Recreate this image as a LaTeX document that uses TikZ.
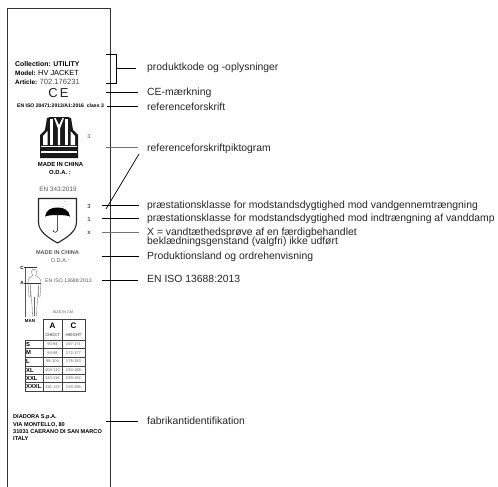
\documentclass[tikz,border=0pt]{standalone}
\usepackage{fontspec}
\setmainfont{Liberation Sans}
\tikzset{
	lbl/.style={anchor=west, inner sep=0pt, font=\fontsize{10.4}{9}\selectfont, text=black!85},
	leader/.style={line width=0.7pt},
	grayleader/.style={line width=0.9pt, black!55},
	tag/.style={inner sep=0pt, font=\bfseries\fontsize{5.9}{6}\selectfont},
	tagleft/.style={tag, anchor=west},
	graytag/.style={inner sep=0pt, font=\fontsize{5.6}{6}\selectfont, text=black!65},
	tablehead/.style={inner sep=0pt, font=\bfseries\fontsize{8}{8}\selectfont},
	tablesub/.style={inner sep=0pt, font=\fontsize{4.2}{5}\selectfont, text=black!80},
	tablesize/.style={anchor=west, inner sep=0pt, font=\bfseries\fontsize{5.8}{6}\selectfont},
	tabledata/.style={inner sep=0pt, font=\fontsize{4.1}{5}\selectfont, text=black!60},
	gridline/.style={line width=0.6pt, black!75},
}
\begin{document}
\begin{tikzpicture}[x=1pt, y=-1pt]
		\useasboundingbox (0,0) rectangle (498,487);

		% label outline
		\draw [line width=0.7pt, black!80] (7,487) -- (7,8) -- (110,8) -- (110,487);

		% label texts
		\node (C1) at (15,64) [tagleft, font=\bfseries\fontsize{6.9}{7}\selectfont] {Collection: UTILITY};
		\node (C2) at (15,72.5) [tagleft, font=\bfseries\fontsize{6.4}{7}\selectfont] {Model: \mdseries\fontsize{7.4}{7}\selectfont HV JACKET};
		\node (C3) at (15,81.5) [tagleft, font=\bfseries\fontsize{6.4}{7}\selectfont] {Article: \mdseries\fontsize{7.6}{7}\selectfont\textcolor{black!70}{702.176231}};
		\node (CE) at (58.5,93) [inner sep=0pt, font=\fontsize{13}{13}\selectfont, text=black!85] {C\kern2pt E};
		\node (STD) at (60.5,106) [tag, font=\bfseries\fontsize{5.1}{5}\selectfont] {EN ISO 20471:2013/A1:2016\ \ class 3};
		\node (MC1) at (60.5,164.5) [tag] {MADE IN CHINA};
		\node (ODA1) at (60,172.5) [tag] {O.D.A. :};
		\node (EN) at (58,189) [graytag, font=\fontsize{6.4}{7}\selectfont] {EN 343:2019};
		\node (MC2) at (57.5,253) [graytag, font=\bfseries\fontsize{5.6}{6}\selectfont] {MADE IN CHINA};
		\node (ODA2) at (60,260.5) [graytag] {O.D.A.:};
		\node (ISO) at (68.5,281) [graytag, font=\fontsize{5.2}{6}\selectfont] {EN ISO 13688:2013};
		\node (VAL0) at (89,136.5) [graytag] {3};
		\node (VAL1) at (89,206) [graytag, font=\bfseries\fontsize{6}{6}\selectfont] {3};
		\node (VAL2) at (89,219) [graytag, font=\bfseries\fontsize{6}{6}\selectfont] {1};
		\node (VAL3) at (89,232.5) [tag, text=black!70] {x};
		\node (F1) at (13,417) [tagleft, font=\bfseries\fontsize{5.6}{6}\selectfont] {DIADORA S.p.A.};
		\node (F2) at (13,424.5) [tagleft, font=\bfseries\fontsize{5.6}{6}\selectfont] {VIA MONTELLO, 80};
		\node (F3) at (13,431.5) [tagleft, font=\bfseries\fontsize{5.6}{6}\selectfont] {31031 CAERANO DI SAN MARCO};
		\node (F4) at (13,439) [tagleft, font=\bfseries\fontsize{5.6}{6}\selectfont] {ITALY};

		% vest
		\fill [black!90] (50,117) -- (68,117) -- (71,118) -- (73,130) -- (78,135) -- (78,158) -- (40,158) -- (40,135) -- (45,130) -- (47,118) -- cycle;
		\fill [white] (43,136) -- (47.5,131) -- (47.5,145) -- (43,145) -- cycle;
		\fill [white] (75,136) -- (70.5,131) -- (70.5,145) -- (75,145) -- cycle;
		\fill [white] (50,119) -- (53,119) -- (53,145) -- (50,145) -- cycle;
		\fill [white] (65,119) -- (68,119) -- (68,145) -- (65,145) -- cycle;
		\fill [white] (55.5,118) -- (59,125) -- (62.5,118) -- (64,118) -- (60.2,128) -- (60.2,145) -- (57.8,145) -- (57.8,128) -- (54,118) -- cycle;
		\fill [white] (40.8,150.5) rectangle (77.2,152.7);
		\fill [white] (41,145.5) rectangle (77,147);

		% shield and umbrella
		\draw [line width=1.1pt, black!85, fill=white] (38.5,198.5) -- (76.5,198.5) -- (76.5,222) .. controls (76.5,232) and (66,238) .. (57.5,243) .. controls (49,238) and (38.5,232) .. (38.5,222) -- cycle;
		\fill [black] (45,216.5) .. controls (46,210) and (51,207.5) .. (57.5,207.5) .. controls (64,207.5) and (69,210) .. (70,216.5) .. controls (66,214.5) and (49,214.5) .. (45,216.5) -- cycle;
		\draw [line width=0.5pt] (57.5,214) -- (57.5,230) .. controls (57.5,233) and (53,233) .. (53,230);
		\foreach \px/\py in {59/205, 62/203, 65/201.5, 66/205, 69/204, 63/206.5}
			\fill [black!70] (\px,\py) circle (0.45);

		% figure with measures
		\node (MC) at (22,267.5) [inner sep=0pt, font=\bfseries\fontsize{4.6}{5}\selectfont] {C};
		\node (MA) at (22,283) [inner sep=0pt, font=\bfseries\fontsize{4.6}{5}\selectfont] {A};
		\draw [line width=0.8pt, black!65] (25,267) -- (25,317);
		\draw [line width=0.6pt, black!80] (24,267.5) -- (37,267.5);
		\draw [line width=0.6pt, black!80] (24,283) -- (41,283);
		\draw [line width=0.3pt, black!60] (34,269) .. controls (31,269) and (31,274) .. (33,275.5) .. controls (30,277) and (28,278) .. (28,283) -- (29,297) -- (30.5,297) -- (30.5,284) .. controls (31,292) and (31,298) .. (32,305) -- (32.5,316) -- (36.5,316) -- (37,305) .. controls (38,298) and (38,292) .. (38.5,284) -- (38.5,297) -- (40,297) -- (41,283) .. controls (41,278) and (38,277) .. (35.5,275.5) .. controls (37.5,274) and (37,269) .. (34,269) -- cycle;
		\draw [line width=0.3pt, black!60] (34.5,297) -- (34.5,316);

		% size table
		\node (SIZE) at (63,312) [graytag, font=\fontsize{3.8}{4}\selectfont] {SIZE IN CM};
		\node (MAN) at (30,320.5) [tag, font=\bfseries\fontsize{4.4}{5}\selectfont] {MAN};
		\node (HA) at (52.5,326) [tablehead] {A};
		\node (HC) at (73.5,326) [tablehead] {C};
		\node (HCH) at (52.5,335) [tablesub] {CHEST};
		\node (HHE) at (73.5,335) [tablesub] {HEIGHT};
		\foreach \ry/\rs/\rc/\rh in {344.2/S/90-94/167-171, 352.8/M/94-98/172-177, 361.5/L/98-104/178-183, 370.2/XL/104-110/184-188, 378.5/XXL/110-116/189-192, 386.8/XXXL/116-122/193-196}{
			\node (S\rs) at (26,\ry) [tablesize] {\rs};
			\node (D\rs) at (52.5,\ry) [tabledata] {\rc};
			\node (E\rs) at (73.5,\ry) [tabledata] {\rh};
		}
		\draw [gridline] (43,340) -- (43,319) -- (85,319) -- (85,391) -- (25,391) -- (25,340) -- (85,340);
		\draw [gridline] (62,319) -- (62,391);
		\draw [gridline] (43,340) -- (43,391);
		\foreach \ly in {348.5, 357, 366, 374.5, 382.5}
			\draw [gridline] (25,\ly) -- (85,\ly);

		% side labels
		\node (T1) at (147,68) [lbl] {produktkode og -oplysninger};
		\node (T2) at (147,92.5) [lbl] {CE-mærkning};
		\node (T3) at (147,106.5) [lbl] {referenceforskrift};
		\node (T4) at (147,149) [lbl] {referenceforskriftpiktogram};
		\node (T5) at (147,206) [lbl] {præstationsklasse for modstandsdygtighed mod vandgennemtrængning};
		\node (T6) at (147,219) [lbl] {præstationsklasse for modstandsdygtighed mod indtrængning af vanddamp};
		\node (T7) at (147,237) [lbl, align=left, font=\fontsize{10.4}{8.4}\selectfont] {X = vandtæthedsprøve af en færdigbehandlet\\[-2pt]beklædningsgenstand (valgfri) ikke udført};
		\node (T8) at (147,257) [lbl] {Produktionsland og ordrehenvisning};
		\node (T9) at (147,278.5) [lbl] {EN ISO 13688:2013};
		\node (T10) at (147,420.5) [lbl] {fabrikantidentifikation};

		% leader ends
		\coordinate (B1) at (106,54);
		\coordinate (B2) at (116,54);
		\coordinate (B3) at (116,83);
		\coordinate (B4) at (106,83);
		\coordinate (B5) at (116,68);
		\coordinate (B6) at (136,68);
		\coordinate (A2) at (106,92);
		\coordinate (Z2) at (138,92);
		\coordinate (A3) at (107,106.5);
		\coordinate (Z3) at (138,106.5);
		\coordinate (A4) at (106,147);
		\coordinate (Z4) at (138,147);
		\coordinate (A5) at (102,205);
		\coordinate (Z5) at (139,205);
		\coordinate (A6) at (102,218);
		\coordinate (Z6) at (139,218);
		\coordinate (A7) at (102,232.5);
		\coordinate (Z7) at (139,232.5);
		\coordinate (A8) at (102,256);
		\coordinate (Z8) at (139,256);
		\coordinate (A9) at (102,280);
		\coordinate (Z9) at (138,280);
		\coordinate (A10) at (106,421);
		\coordinate (Z10) at (138,421);
		\coordinate (S1) at (139,154);
		\coordinate (S2) at (106,209);

		\draw [leader] (B1) -- (B2) -- (B3) -- (B4);
		\draw [leader] (B5) -- (B6);
		\draw [leader] (A2) -- (Z2);
		\draw [leader] (A3) -- (Z3);
		\draw [grayleader] (A4) -- (Z4);
		\draw [leader] (S1) -- (S2);
		\draw [leader] (A5) -- (Z5);
		\draw [leader] (A6) -- (Z6);
		\draw [grayleader] (A7) -- (Z7);
		\draw [leader] (A8) -- (Z8);
		\draw [leader] (A9) -- (Z9);
		\draw [leader] (A10) -- (Z10);
		\end{tikzpicture}
\end{document}
